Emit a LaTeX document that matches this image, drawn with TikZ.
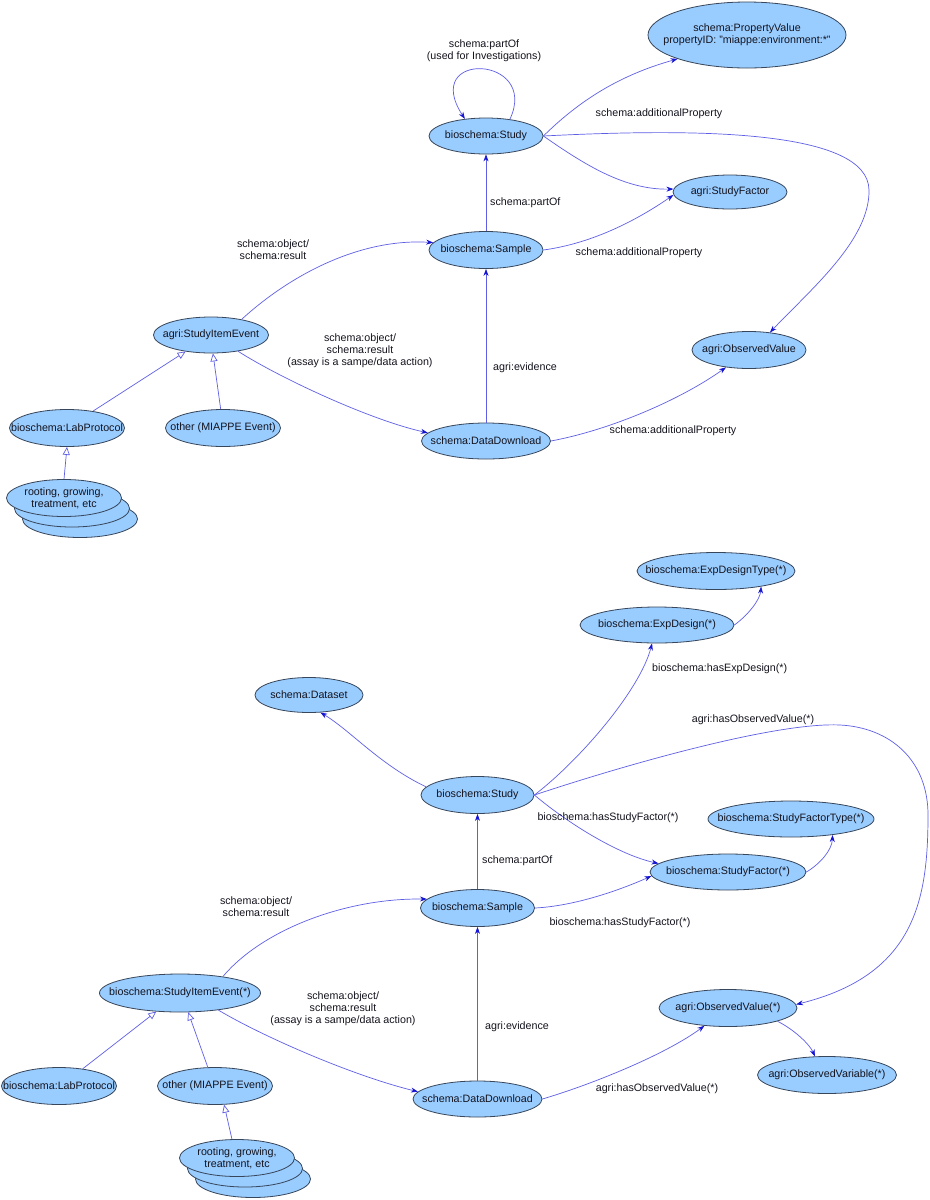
\documentclass[tikz,border=0pt]{standalone}
\usepackage{fontspec}
\setmainfont{Liberation Sans}
\usetikzlibrary{shapes.geometric,arrows.meta}
\definecolor{nodefill}{RGB}{153,204,255}
\definecolor{nodeline}{RGB}{55,70,90}
\definecolor{edgecol}{RGB}{95,95,230}
\definecolor{tipcol}{RGB}{20,20,210}
\definecolor{txt}{RGB}{20,20,30}
\begin{document}
\begin{tikzpicture}[x=1bp,y=1bp,
  ell/.style={ellipse, draw=nodeline, fill=nodefill, line width=0.8bp, inner xsep=-25bp, inner ysep=0pt,
    text=txt, font=\fontsize{10.7bp}{12bp}\selectfont, align=center},
  edge/.style={draw=edgecol, line width=0.7bp, -{Stealth[length=7bp,width=5bp,color=tipcol]}},
  isa/.style={draw=edgecol, line width=0.7bp, -{Triangle[open,length=8bp,width=7bp,fill=white]}},
  lbl/.style={font=\fontsize{10.7bp}{12bp}\selectfont, text=txt, align=center, inner sep=0pt}]
\fill[white] (0,0) rectangle (930,-1200);
\useasboundingbox (0,0) rectangle (930,-1200);

% ---------------- top diagram ----------------
\node[ell, minimum width=198bp, minimum height=66bp] (pv) at (747,-35) {schema:PropertyValue\\propertyID: "miappe:environment:*"};
\node[ell, minimum width=114bp, minimum height=36bp] (study) at (486,-136) {bioschema:Study};
\node[ell, minimum width=114bp, minimum height=34bp] (sf) at (730,-192) {agri:StudyFactor};
\node[ell, minimum width=114bp, minimum height=37bp] (sample) at (486,-250) {bioschema:Sample};
\node[ell, minimum width=114bp, minimum height=37bp] (ov) at (749,-350) {agri:ObservedValue};
\node[ell, minimum width=129bp, minimum height=36bp] (dd) at (486,-441) {schema:DataDownload};
\node[ell, minimum width=115bp, minimum height=36bp] (sie) at (211,-335) {agri:StudyItemEvent};
\node[ell, minimum width=115bp, minimum height=37bp] (lp) at (67,-428) {bioschema:LabProtocol};
\node[ell, minimum width=115bp, minimum height=37bp] (oth) at (223,-428) {other (MIAPPE Event)};
\node[ell, minimum width=115bp, minimum height=37bp] (rtc) at (80,-519) {};
\node[ell, minimum width=115bp, minimum height=37bp] (rtb) at (72,-508.5) {};
\node[ell, minimum width=115bp, minimum height=37bp] (rt) at (64,-498) {rooting, growing,\\treatment, etc};

\coordinate (w1) at (869,-190);

\draw[edge] (study.35) .. controls (540,-55) and (420,-50) .. (study.141);
\draw[edge] (study.east) .. controls (580,-100) and (620,-75) .. (pv.199);
\draw[edge] (study.east) .. controls (585,-165) and (625,-190) .. (sf.177);
\draw[edge] (study.east) .. controls (700,-128) and (868,-130) .. (w1) .. controls (870,-240) and (810,-290) .. (ov.40);
\draw[edge] (sample.north) -- (study.south);
\draw[edge] (sample.east) .. controls (595,-243) and (640,-218) .. (sf.183);
\draw[edge] (sie.27) .. controls (290,-275) and (360,-238) .. (sample.172);
\draw[edge] (sie.329) .. controls (280,-378) and (370,-420) .. (dd.172);
\draw[edge] (dd.north) -- (sample.south);
\draw[edge] (dd.east) .. controls (610,-430) and (680,-400) .. (ov.217);
\draw[isa] (lp.33) -- (sie.213);
\draw[isa] (oth.97) -- (sie.276);
\draw[isa] (rt.north) -- (lp.south);

\node[lbl] (l1) at (484,-51) {schema:partOf\\(used for Investigations)};
\node[lbl] (l2) at (659,-114) {schema:additionalProperty};
\node[lbl, anchor=west] (l3) at (490,-203) {schema:partOf};
\node[lbl] (l4) at (639,-253) {schema:additionalProperty};
\node[lbl] (l5) at (273,-250) {schema:object/\\schema:result};
\node[lbl] (l6) at (360,-351) {schema:object/\\schema:result\\(assay is a sampe/data action)};
\node[lbl, anchor=west] (l7) at (493,-368) {agri:evidence};
\node[lbl] (l8) at (673,-431) {schema:additionalProperty};

% ---------------- bottom diagram ----------------
\node[ell, minimum width=158bp, minimum height=37bp] (edt) at (716,-571) {bioschema:ExpDesignType(*)};
\node[ell, minimum width=154bp, minimum height=36bp] (ed) at (657,-625) {bioschema:ExpDesign(*)};
\node[ell, minimum width=108bp, minimum height=35bp] (ds) at (309,-695) {schema:Dataset};
\node[ell, minimum width=113bp, minimum height=37bp] (study2) at (477.5,-795) {bioschema:Study};
\node[ell, minimum width=166bp, minimum height=36bp] (sft) at (791,-819) {bioschema:StudyFactorType(*)};
\node[ell, minimum width=156bp, minimum height=36bp] (sf2) at (728,-872) {bioschema:StudyFactor(*)};
\node[ell, minimum width=114bp, minimum height=37bp] (sample2) at (477.5,-908) {bioschema:Sample};
\node[ell, minimum width=138bp, minimum height=37bp] (ov2) at (728,-1008) {agri:ObservedValue(*)};
\node[ell, minimum width=139bp, minimum height=37bp] (ovar) at (827,-1075) {agri:ObservedVariable(*)};
\node[ell, minimum width=129bp, minimum height=36bp] (dd2) at (477.5,-1099) {schema:DataDownload};
\node[ell, minimum width=161bp, minimum height=38bp] (sie2) at (180,-993) {bioschema:StudyItemEvent(*)};
\node[ell, minimum width=115bp, minimum height=37bp] (lp2) at (59,-1086) {bioschema:LabProtocol};
\node[ell, minimum width=115bp, minimum height=37bp] (oth2) at (215,-1086) {other (MIAPPE Event)};
\node[ell, minimum width=115bp, minimum height=37bp] (rt2c) at (253,-1179) {};
\node[ell, minimum width=115bp, minimum height=37bp] (rt2b) at (245,-1168.5) {};
\node[ell, minimum width=115bp, minimum height=37bp] (rt2) at (237,-1158) {rooting, growing,\\treatment, etc};

\coordinate (w2) at (840,-725);
\coordinate (w3) at (928,-815);

\draw[edge] (study2.171) .. controls (380,-765) and (350,-730) .. (ds.303);
\draw[edge] (study2.east) .. controls (580,-760) and (640,-690) .. (ed.255);
\draw[edge] (ed.east) .. controls (748,-615) and (760,-600) .. (edt.341);
\draw[edge] (study2.east) .. controls (640,-760) and (780,-722) .. (w2) .. controls (890,-727.5) and (928,-760) .. (w3) .. controls (928,-900) and (915,-975) .. (ov2.3);
\draw[edge] (study2.east) .. controls (570,-825) and (620,-855) .. (sf2.173);
\draw[edge] (sf2.east) .. controls (820,-864) and (832,-850) .. (sft.339);
\draw[edge] (sample2.north) -- (study2.south);
\draw[edge] (sample2.east) .. controls (575,-906) and (620,-890) .. (sf2.183);
\draw[edge] (dd2.north) -- (sample2.south);
\draw[edge] (dd2.east) .. controls (590,-1085) and (665,-1055) .. (ov2.217);
\draw[edge] (ov2.345) .. controls (795,-1030) and (810,-1045) .. (ovar.123);
\draw[edge] (sie2.21) .. controls (262,-930) and (345,-898) .. (sample2.170);
\draw[edge] (sie2.336) .. controls (260,-1035) and (350,-1075) .. (dd2.173);
\draw[isa] (lp2.36) -- (sie2.218);
\draw[isa] (oth2.111) -- (sie2.293);
\draw[isa] (rt2.105) -- (oth2.296);

\node[lbl, anchor=west] (m1) at (652,-669) {bioschema:hasExpDesign(*)};
\node[lbl] (m2) at (753,-720) {agri:hasObservedValue(*)};
\node[lbl] (m3) at (608,-818) {bioschema:hasStudyFactor(*)};
\node[lbl, anchor=west] (m4) at (482,-861) {schema:partOf};
\node[lbl] (m5) at (620,-923) {bioschema:hasStudyFactor(*)};
\node[lbl, anchor=west] (m6) at (485,-1027) {agri:evidence};
\node[lbl] (m7) at (657,-1089) {agri:hasObservedValue(*)};
\node[lbl] (m8) at (256,-907) {schema:object/\\schema:result};
\node[lbl] (m9) at (343,-1009) {schema:object/\\schema:result\\(assay is a sampe/data action)};
\end{tikzpicture}
\end{document}
